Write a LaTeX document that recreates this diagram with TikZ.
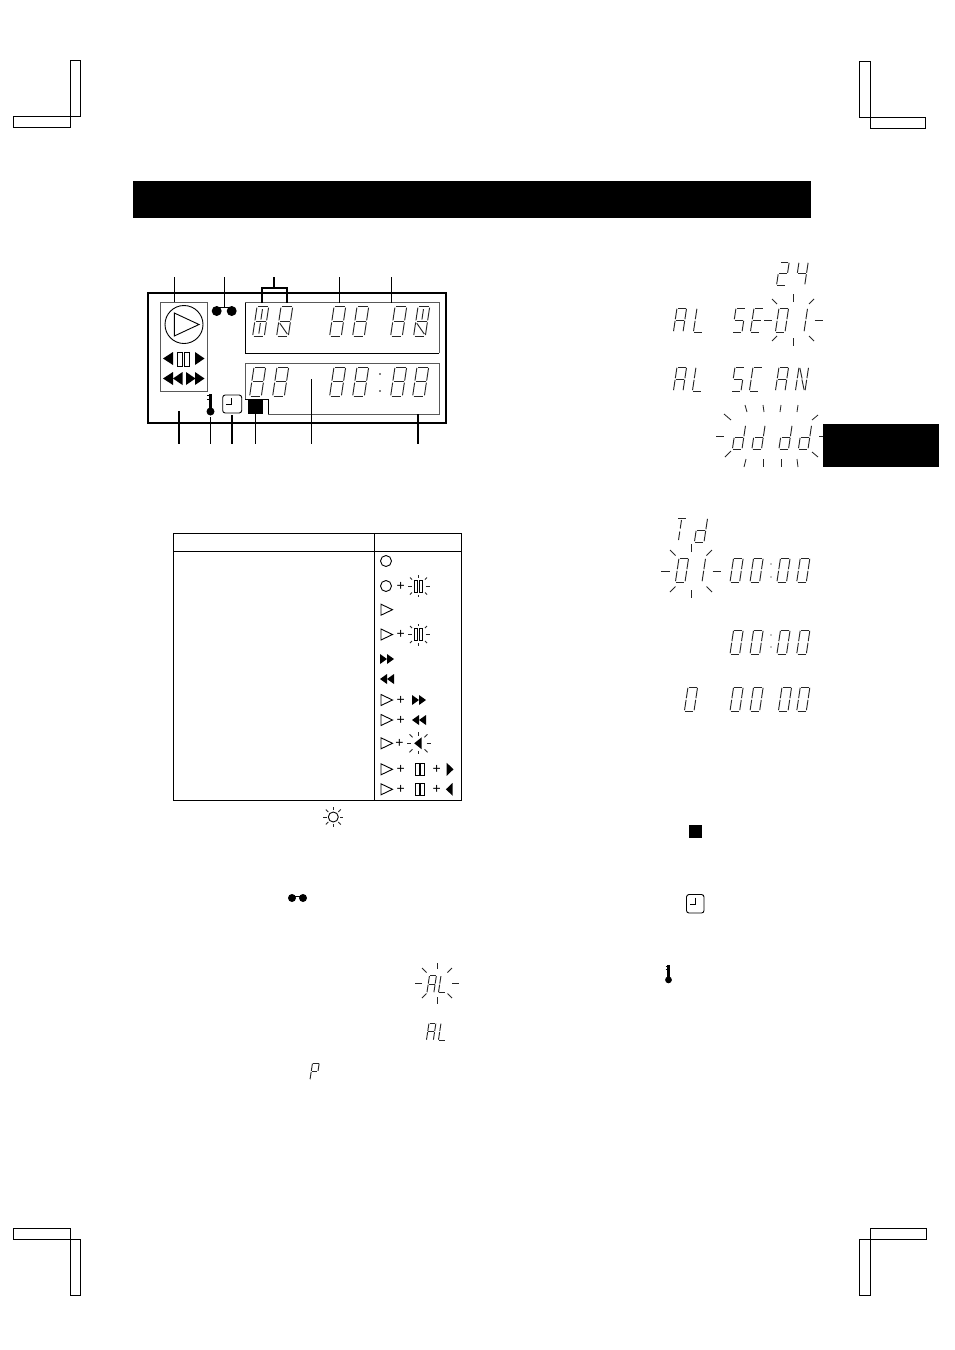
\documentclass[tikz,border=0pt]{standalone}
\usepackage{fontspec}
\setmainfont{Liberation Sans}
\usetikzlibrary{arrows.meta,positioning}
\def\lcda{(.8,0)--(8.8,0)}
\def\lcdb{(9.6,.8)--(9.6,11.2)}
\def\lcdc{(9.6,12.8)--(9.6,23.2)}
\def\lcdd{(.8,24)--(8.8,24)}
\def\lcde{(0,12.8)--(0,23.2)}
\def\lcdf{(0,.8)--(0,11.2)}
\def\lcdg{(.8,12)--(8.8,12)}
\def\lcdm{(4.8,2)--(4.8,10.5)}
\def\lcdn{(4.8,13.5)--(4.8,22)}
\def\lcdp{(1,1)--(4.8,11.5)}
\def\lcdq{(4.8,12.5)--(8.6,23)}
\def\lcdr{(1,13.5)--(8.6,22.5)}
\def\glA{a,b,c,e,f,g}
\def\glL{d,e,f}
\def\glS{a,c,d,f,g}
\def\glE{a,d,e,f,g}
\def\glC{a,d,e,f}
\def\glN{b,c,e,f,p,q}
\def\glO{a,b,c,d,e,f}
\def\glI{b,c}
\def\glT{a,m,n}
\def\gld{b,c,d,e,g}
\def\glP{a,b,e,f,g}
\def\glTwo{a,b,d,e,g}
\def\glFour{b,c,f,g}
\def\glAll{a,b,c,d,e,f,g}
\newcommand\lcddigit[4]{%
  \edef\lcdlist{#4}%
  \begin{scope}[shift={(#1,#2)},scale=#3,xslant=.15]
    \foreach \sg in \lcdlist {\draw[lcdseg] \csname lcd\sg\endcsname;}
  \end{scope}}
\newcommand\lcdrow[3]{\foreach \px/\gl in {#3} {\lcddigit{\px}{#1}{#2}{\gl}}}
\newcommand\blinkrays[8]{%
  \begin{scope}[shift={(#1,#2)}]
    \foreach \sn in {1,-1} {
      \draw[ray] (\sn*#3,0) -- (\sn*#4,0);
      \draw[ray] (0,\sn*#5) -- (0,\sn*#6);
      \draw[ray] (\sn*#7,#7) -- (\sn*#8,#8);
      \draw[ray] (\sn*#7,-#7) -- (\sn*#8,-#8);
    }
  \end{scope}}
\newcommand\playtri[2]{\draw[iconline] (#1,#2-5.5) -- (#1,#2+5.5) -- (#1+11.5,#2) -- cycle;}
\newcommand\fwdtri[4]{\fill (#1,#2-#4) -- (#1,#2+#4) -- (#1+#3,#2) -- cycle;}
\newcommand\revtri[4]{\fill (#1,#2-#4) -- (#1,#2+#4) -- (#1-#3,#2) -- cycle;}
\newcommand\pausebars[4]{%
  \draw[barline] (#1,#2-#4) rectangle (#1+#3,#2+#4);
  \draw[barline] (#1+#3+1.6,#2-#4) rectangle (#1+2*#3+1.6,#2+#4);}
\newcommand\clockicon[4]{%
  \draw[iconline,rounded corners=2.5pt] (#1,#2) rectangle (#3,#4);
  \draw[iconline,line width=1pt] (#1+9.2,#2+3) -- (#1+9.2,#2+9.5) -- (#1+3.5,#2+9.5);}
\newcommand\keyicon[3]{%
  \fill (#1,#2+#3*17.5) circle (#3*4);
  \draw[line width=#3*2.4pt] (#1,#2) -- (#1,#2+#3*17);
  \draw[line width=1.1pt] (#1-#3*3.5,#2+#3*1.5) -- (#1,#2+#3*1.5)
    (#1-#3*3.5,#2+#3*5.5) -- (#1,#2+#3*5.5);}
\newcommand\crossblock[8]{%
  \draw[cropline] (#1,#2) rectangle (#3,#4);
  \draw[cropline] (#5,#6) rectangle (#7,#8);}
\begin{document}
\begin{tikzpicture}[
  x=1pt,y=-1pt,
  font=\normalsize,
  lcdseg/.style={line width=.95pt,black!85},
  ray/.style={line width=.85pt,black!85},
  iconline/.style={line width=.9pt,black},
  barline/.style={line width=.7pt,black},
  cropline/.style={line width=1pt,black},
  panelbox/.style={line width=1pt,black!65},
  leader/.style={line width=1pt,black},
  plus/.style={inner sep=0pt,font=\fontsize{14}{14}\selectfont},
]
\useasboundingbox (0,0) rectangle (954,1350);

\crossblock{70}{60.5}{80}{116.5}{13.5}{116.5}{70}{127.5}
\crossblock{859.5}{61}{870}{117}{870}{117}{925.5}{128}
\crossblock{13.5}{1228}{70}{1239}{70}{1239}{80}{1295}
\crossblock{870}{1228}{926}{1239}{859.5}{1239}{870}{1295}

\fill (133,181) rectangle (811,218);

\draw[line width=2pt] (147.5,293) rectangle (446,423);
\draw[panelbox] (160.5,302) rectangle (207,391);
\draw[panelbox] (245,302.5) -- (439,302.5) -- (439,353);
\draw[line width=.9pt] (439,353) -- (245,353) -- (245,302.5);
\draw[panelbox] (245,399) -- (245,363) -- (439,363) -- (439,414) -- (268,414);
\draw[line width=.9pt] (245,399) -- (268,399) -- (268,414);

\foreach \lx/\ly in {174/302,224.5/307,339/302.5} {
  \draw[leader] (\lx,277) -- (\lx,\ly);
}
\draw[line width=1.5pt] (391.5,277) -- (391.5,302.5);
\draw[line width=1.5pt] (274,277) -- (274,288);
\draw[line width=1.4pt] (262,303) -- (262,288) -- (287,288) -- (287,303);
\foreach \lx/\ly in {179/411,210.5/417,232/415,255.5/414,311.5/379,418/414} {
  \draw[line width=1.2pt] (\lx,\ly) -- (\lx,444);
}

\draw[iconline] (184,324.5) circle (19);
\draw[iconline] (174.3,313) -- (174.3,336) -- (199,324.5) -- cycle;
\revtri{173}{358.5}{10}{6.5}
\pausebars{177.8}{359}{5}{7}
\fwdtri{195}{358.5}{9.5}{6.5}
\revtri{173}{378.5}{10}{6.5}
\revtri{182.5}{378.5}{9.5}{6.5}
\fwdtri{186}{378.5}{9.5}{6.5}
\fwdtri{195}{378.5}{9.5}{6.5}

\fill (216.7,311) circle (5) (231.7,311) circle (5);
\draw[line width=1pt] (216.7,307.5) -- (231.7,307.5);

\keyicon{210.5}{394}{1}
\clockicon{222.7}{395}{241.7}{413}
\fill (248,400) rectangle (263,413.5);

\lcdrow{306.7}{1.22}{257/{a,b,c,d,e,f,g,m,n},281/{a,b,c,d,e,f,g,r},334/\glAll,357/\glAll,395/\glAll,418/{a,b,c,d,e,f,g,m,r}}
\lcdrow{367}{1.22}{254/\glAll,277/\glAll,334/\glAll,357/\glAll,395/\glAll,417/\glAll}
\fill (380,374) circle (.8) (380,391) circle (.8);

\draw[line width=1pt] (173,533) rectangle (461,800);
\draw[line width=1pt] (173,551) -- (461,551);
\draw[line width=1pt] (374,533) -- (374,800);

\draw[iconline] (386,561) circle (5.5);
\draw[iconline] (386,586) circle (5.5);
\node[plus] (plusa) at (400.7,586) {+};
\pausebars{414.2}{586}{3.4}{6}
\blinkrays{418.5}{586}{7}{11}{8.5}{11}{6.5}{8.5}
\playtri{381}{609.7}
\playtri{381}{634.5}
\node[plus] (plusb) at (400.7,634.5) {+};
\pausebars{414.2}{634.5}{3.4}{6}
\blinkrays{418.5}{634.5}{7}{11}{8.5}{11}{6.5}{8.5}
\fwdtri{380}{659}{7}{5}
\fwdtri{387}{659}{7}{5}
\revtri{387}{679}{7}{5}
\revtri{394}{679}{7}{5}
\playtri{381}{700}
\node[plus] (plusc) at (400.7,700) {+};
\fwdtri{412}{700}{7}{5}
\fwdtri{419}{700}{7}{5}
\playtri{381}{720}
\node[plus] (plusd) at (400.7,720) {+};
\revtri{419}{720}{7}{5}
\revtri{426}{720}{7}{5}
\playtri{381}{743.3}
\node[plus] (pluse) at (399.5,743.3) {+};
\revtri{421.7}{743.3}{7.5}{6}
\blinkrays{418.5}{743.3}{8}{12}{7.5}{11}{6}{9}
\playtri{381}{769.3}
\node[plus] (plusf) at (400.7,769.3) {+};
\pausebars{415.7}{769.3}{3.4}{6}
\node[plus] (plusg) at (436.7,769.3) {+};
\fwdtri{446.7}{769.3}{6.8}{6.5}
\playtri{381}{789.3}
\node[plus] (plush) at (400.7,789.3) {+};
\pausebars{415.7}{789.3}{3.4}{6}
\node[plus] (plusi) at (436.7,789.3) {+};
\revtri{452.7}{789.3}{6.8}{6.5}

\draw[iconline] (333.3,817) circle (5);
\blinkrays{333.3}{817}{6.5}{10}{7}{10}{5}{7.5}

\fill (292,898) circle (4) (303,898) circle (4);
\draw[line width=1pt] (292,896) -- (303,896);

\lcdrow{975.5}{.72}{429.5/\glA,441/\glL}
\blinkrays{437}{983}{15}{22}{14}{20.5}{10.5}{15}
\lcdrow{1023}{.72}{429/\glA,441/\glL}
\lcddigit{312.5}{1063}{.7}{\glP}

\lcdrow{262}{.96}{780/\glTwo,799/\glFour}
\lcdrow{308}{1}{677/\glA,697/\glL,736/\glS,754/\glE,779/\glO,798/\glI}
\blinkrays{793}{320}{21.5}{29.5}{18}{26}{16}{21}
\lcdrow{367}{1}{677/\glA,696/\glL,735/\glS,753/\glC,779/\glA,799/\glN}
\lcdrow{425}{1}{736/\gld,755.5/\gld,782.5/\gld,802/\gld}
\foreach \ax/\ay/\bx/\by in {
  716/436/724/436,819/436/823/436,
  745/405/747/412,763/405/764/412,781/405/780/412,798/405/797/412,
  724/414/731/420,818/415/812/420,725/457/731/451,818/457/812/452,
  746/459/744/467,763/459/763/467,781/459/781/467,797/459/798/467} {
  \draw[ray] (\ax,\ay) -- (\bx,\by);
}
\fill (823,424) rectangle (939,467);

\lcdrow{518}{1}{677/\glT,698/\gld}
\lcdrow{558}{1}{679/\glO,696/\glI,733.6/\glO,753.6/\glO,780.5/\glO,800.3/\glO}
\blinkrays{691}{571}{21.5}{30}{19}{27}{15.5}{21}
\fill (771,564) circle (.7) (771,577) circle (.7);
\lcdrow{630}{1}{733.6/\glO,753.6/\glO,780.5/\glO,800.3/\glO}
\fill (771,635) circle (.7) (771,647) circle (.7);
\lcdrow{687}{1}{688/\glO,733.6/\glO,753.6/\glO,782/\glO,800.3/\glO}

\fill (689,825) rectangle (702,838);
\clockicon{686.5}{894.5}{704}{913}
\keyicon{668.5}{965}{.85}
\end{tikzpicture}
\end{document}
